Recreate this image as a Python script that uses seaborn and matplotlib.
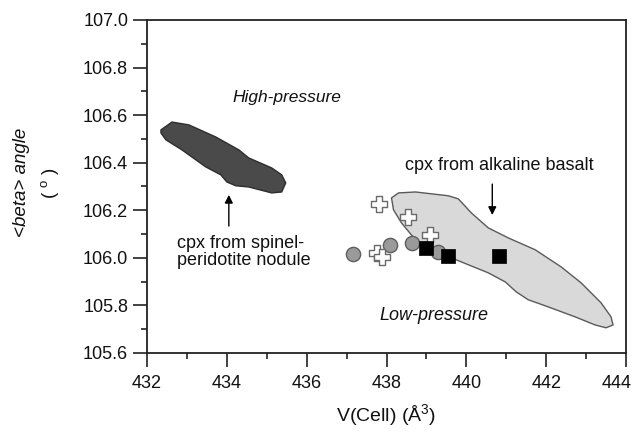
import matplotlib
matplotlib.use("Agg")
import matplotlib.pyplot as plt
from matplotlib.ticker import MultipleLocator
from matplotlib.transforms import ScaledTranslation
import seaborn as sns
import pandas as pd

# ---- data ----
circle_v = [437.15, 438.10, 438.65, 439.30]
circle_b = [106.017, 106.055, 106.063, 106.025]

plus_v = [437.80, 438.53, 439.10, 437.75, 437.88]
plus_b = [106.227, 106.172, 106.097, 106.020, 106.005]

square_v = [438.98, 439.55, 440.83]
square_b = [106.040, 106.008, 106.008]

high_v = [432.35, 432.625, 433.05, 433.725, 434.3, 434.55, 435.125, 435.375, 435.475,
          435.375, 435.125, 434.55, 434.225, 434.0, 433.85, 433.475, 432.875, 432.475, 432.35]
high_b = [106.538, 106.571, 106.559, 106.508, 106.454, 106.420, 106.378, 106.349, 106.315,
          106.277, 106.273, 106.298, 106.303, 106.319, 106.349, 106.382, 106.454, 106.496, 106.525]

low_v = [438.125, 438.3, 438.725, 439.55, 439.8, 440.125, 440.55, 441.05, 441.725, 442.375,
         442.875, 443.375, 443.625, 443.675, 443.5, 443.225, 442.725, 442.05, 441.55, 441.25,
         440.975, 440.55, 440.05, 439.625, 439.125, 438.725, 438.375, 438.175]
low_b = [106.252, 106.273, 106.277, 106.261, 106.248, 106.189, 106.126, 106.084, 106.034, 105.962,
         105.895, 105.811, 105.752, 105.718, 105.706, 105.718, 105.752, 105.794, 105.824, 105.857,
         105.899, 105.937, 105.971, 106.0, 106.034, 106.076, 106.147, 106.202]

x_ticks = [432, 434, 436, 438, 440, 442, 444]
y_ticks = [105.6, 105.8, 106.0, 106.2, 106.4, 106.6, 106.8, 107.0]

# ---- style ----
sns.set_style("ticks")
plt.rcParams["font.family"] = ["Liberation Sans", "DejaVu Sans"]
plt.rcParams["mathtext.fontset"] = "custom"
plt.rcParams["mathtext.rm"] = "Liberation Sans"
plt.rcParams["mathtext.it"] = "Liberation Sans:italic"

fig = plt.figure(figsize=(6.36, 4.33), dpi=100)
ax = fig.add_axes([147 / 636, 1 - 353 / 433, (626 - 147) / 636, (353 - 20) / 433])

ax.fill(high_v, high_b, facecolor="#4a4a4a", edgecolor="#2e2e2e", linewidth=1.0, zorder=1)
ax.fill(low_v, low_b, facecolor="#d9d9d9", edgecolor="#5a5a5a", linewidth=1.0, zorder=1)

df_c = pd.DataFrame({"v": circle_v, "b": circle_b})
df_p = pd.DataFrame({"v": plus_v, "b": plus_b})
df_s = pd.DataFrame({"v": square_v, "b": square_b})

sns.scatterplot(data=df_c, x="v", y="b", ax=ax, marker="o", s=105,
                color="#9a9a9a", edgecolor="#5e5e5e", linewidth=1.0, zorder=3, legend=False)
sns.scatterplot(data=df_p, x="v", y="b", ax=ax, marker="P", s=120,
                color="white", edgecolor="#6a6a6a", linewidth=1.0, zorder=4, legend=False)
sns.scatterplot(data=df_s, x="v", y="b", ax=ax, marker="s", s=115,
                color="black", edgecolor="black", linewidth=0.5, zorder=5, legend=False)

ax.set_xlim(432, 444)
ax.set_ylim(105.6, 107.0)
ax.set_xticks(x_ticks)
ax.set_yticks(y_ticks)
ax.set_xticklabels([str(t) for t in x_ticks])
ax.set_yticklabels([f"{t:.1f}" for t in y_ticks])
ax.xaxis.set_minor_locator(MultipleLocator(1))
ax.yaxis.set_minor_locator(MultipleLocator(0.1))
ax.tick_params(which="major", direction="out", length=10, width=1.2, color="#222222",
               labelsize=13, labelcolor="#111111")
ax.tick_params(axis="x", which="major", pad=6)
ax.tick_params(axis="y", which="major", pad=3.5)
ax.tick_params(which="minor", direction="out", length=4.5, width=1.2, color="#222222")
for s in ax.spines.values():
    s.set_visible(True)
    s.set_linewidth(1.3)
    s.set_color("#222222")

# last x tick label sits slightly left so it stays inside the picture
last_lbl = ax.get_xticklabels()[-1]
last_lbl.set_transform(last_lbl.get_transform() + ScaledTranslation(-9 / 100, 0, fig.dpi_scale_trans))

ax.set_xlabel("V(Cell) (Å$^{3}$)", fontsize=14, labelpad=7, color="#111111")
ax.set_ylabel("")
fig.text(22 / 636, 1 - 182 / 433, "<beta> angle", rotation=90, fontsize=13.5,
         style="italic", ha="center", va="center", color="#111111")
fig.text(50 / 636, 1 - 183 / 433, "( $^{\\mathrm{o}}$ )", rotation=90, fontsize=13.5,
         ha="center", va="center", color="#111111")

ax.text(435.5, 106.676, "High-pressure", style="italic", fontsize=12.5, ha="center", va="center",
        color="#111111")
ax.text(439.18, 105.756, "Low-pressure", style="italic", fontsize=13, ha="center", va="center",
        color="#111111")
ax.text(440.83, 106.387, "cpx from alkaline basalt", fontsize=13, ha="center", va="center",
        color="#111111")
ax.text(432.75, 106.025, "cpx from spinel-\nperidotite nodule", fontsize=13, ha="left",
        va="center", linespacing=1.0, color="#111111")

ax.annotate("", xy=(440.65, 106.18), xytext=(440.65, 106.31),
            arrowprops=dict(arrowstyle="-|>", color="black", lw=1.0, mutation_scale=12,
                            shrinkA=0, shrinkB=0))
ax.annotate("", xy=(434.05, 106.265), xytext=(434.05, 106.134),
            arrowprops=dict(arrowstyle="-|>", color="black", lw=1.0, mutation_scale=12,
                            shrinkA=0, shrinkB=0))

fig.savefig("out.png", dpi=100)
